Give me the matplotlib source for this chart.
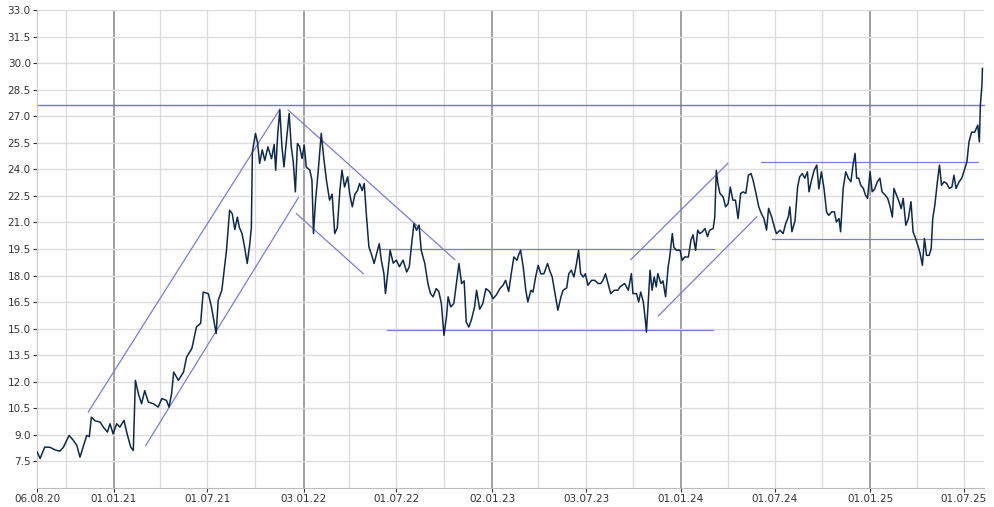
import numpy as np
import pandas as pd
import matplotlib
matplotlib.use("Agg")
from matplotlib import pyplot as plt

# price readings: day offset since 06.08.20 and closing price
start_date = "2020-08-06"
day_offset = [
    0, 6, 15, 25, 35, 44, 51, 62, 70, 77, 83, 89, 96, 101, 105, 112, 122, 128, 136, 141,
    147, 154, 160, 168, 174, 181, 186, 190, 196, 202, 208, 215, 225, 234, 241, 250, 255, 260, 264, 273,
    283, 289, 299, 308, 316, 321, 331, 337, 346, 350, 357, 366, 372, 377, 382, 387, 391, 396, 401, 406,
    411, 414, 416, 422, 426, 430, 435, 440, 446, 453, 458, 461, 465, 469, 473, 477, 482, 487, 491, 495,
    499, 503, 507, 512, 516, 520, 527, 531, 534, 538, 543, 549, 554, 559, 565, 570, 575, 580, 585, 589,
    594, 600, 604, 609, 614, 619, 623, 628, 632, 636, 641, 646, 651, 656, 661, 665, 670, 673, 678, 682,
    688, 694, 700, 707, 714, 719, 723, 728, 733, 738, 742, 749, 755, 760, 765, 771, 776, 781, 786, 791,
    794, 799, 805, 810, 815, 820, 825, 829, 834, 839, 845, 849, 855, 861, 867, 874, 881, 887, 894, 900,
    905, 911, 916, 921, 927, 930, 934, 939, 944, 948, 954, 958, 963, 968, 973, 979, 986, 990, 995, 1000,
    1006, 1012, 1016, 1023, 1027, 1032, 1037, 1042, 1046, 1050, 1055, 1059, 1064, 1071, 1077, 1084, 1089, 1093, 1098, 1103,
    1108, 1115, 1122, 1126, 1135, 1142, 1148, 1151, 1158, 1162, 1166, 1171, 1175, 1177, 1180, 1184, 1188, 1192, 1196, 1199,
    1205, 1209, 1214, 1219, 1222, 1227, 1230, 1235, 1242, 1246, 1251, 1258, 1263, 1267, 1272, 1276, 1280, 1285, 1290, 1295,
    1299, 1306, 1309, 1312, 1315, 1319, 1325, 1330, 1335, 1339, 1344, 1349, 1354, 1359, 1364, 1369, 1374, 1379, 1383, 1390,
    1394, 1399, 1404, 1409, 1413, 1419, 1424, 1428, 1435, 1441, 1446, 1451, 1454, 1458, 1464, 1469, 1473, 1478, 1483, 1488,
    1491, 1496, 1501, 1506, 1510, 1515, 1520, 1525, 1529, 1535, 1540, 1544, 1549, 1552, 1557, 1562, 1567, 1572, 1576, 1580,
    1583, 1587, 1591, 1596, 1600, 1604, 1609, 1613, 1618, 1623, 1628, 1632, 1638, 1643, 1647, 1652, 1655, 1660, 1665, 1669,
    1673, 1678, 1683, 1688, 1692, 1697, 1701, 1705, 1710, 1714, 1718, 1723, 1727, 1730, 1734, 1739, 1743, 1747, 1752, 1757,
    1762, 1767, 1771, 1775, 1781, 1786, 1791, 1796, 1800, 1805, 1811, 1817, 1820, 1822, 1825, 1826,
]
close = [
    8.05, 7.67, 8.31, 8.30, 8.15, 8.08, 8.30, 8.97, 8.70, 8.40, 7.74, 8.30, 8.97, 8.90, 10.00, 9.80, 9.72, 9.44, 9.16, 9.63,
    9.06, 9.63, 9.44, 9.82, 9.06, 8.31, 8.12, 12.08, 11.30, 10.76, 11.50, 10.85, 10.76, 10.57, 11.05, 10.95, 10.57, 11.33, 12.55, 12.08,
    12.55, 13.40, 13.87, 15.10, 15.30, 17.07, 16.97, 16.22, 14.72, 16.60, 17.17, 19.43, 21.69, 21.50, 20.60, 21.30, 20.70, 20.37, 19.60, 18.68,
    19.80, 20.70, 24.99, 26.03, 25.50, 24.33, 25.10, 24.50, 25.27, 24.60, 25.40, 23.95, 26.03, 27.35, 25.30, 24.14, 25.70, 27.16, 25.30, 24.40,
    22.73, 25.46, 25.30, 24.61, 25.37, 24.14, 23.95, 23.39, 20.37, 22.25, 23.86, 26.03, 24.60, 23.39, 22.26, 22.60, 20.37, 20.70, 22.82, 23.95,
    23.00, 23.58, 22.60, 21.88, 22.60, 22.80, 23.20, 22.80, 23.20, 21.50, 19.62, 19.20, 18.68, 19.24, 19.80, 18.87, 18.11, 16.98, 18.30, 19.43,
    18.70, 18.87, 18.50, 18.87, 18.20, 18.50, 19.62, 20.94, 20.56, 20.85, 19.43, 18.68, 17.55, 16.98, 16.80, 17.26, 17.10, 16.42, 14.62, 15.70,
    16.80, 16.23, 16.42, 17.55, 18.68, 17.55, 17.70, 15.38, 15.09, 15.50, 16.22, 17.17, 16.10, 16.42, 17.26, 17.10, 16.70, 16.90, 17.26, 17.45,
    17.73, 17.10, 18.11, 19.05, 18.86, 19.15, 19.43, 18.50, 17.17, 16.51, 17.17, 17.07, 17.92, 18.58, 18.10, 18.10, 18.68, 18.30, 17.92, 17.07,
    16.04, 16.80, 17.17, 17.30, 18.10, 18.30, 17.92, 18.68, 19.43, 18.10, 17.92, 18.10, 17.45, 17.73, 17.73, 17.55, 17.55, 17.73, 18.10, 17.55,
    16.98, 17.17, 17.17, 17.36, 17.55, 17.17, 18.11, 16.98, 16.98, 16.51, 17.07, 16.51, 15.47, 14.81, 16.23, 18.30, 17.17, 17.92, 17.36, 18.11,
    17.55, 17.70, 16.80, 18.50, 19.05, 20.37, 19.60, 19.43, 19.43, 18.86, 19.05, 19.05, 20.00, 20.30, 19.43, 20.56, 20.37, 20.47, 20.66, 20.20,
    20.56, 20.66, 21.30, 23.95, 23.20, 22.64, 22.45, 21.88, 22.07, 23.00, 22.26, 22.26, 21.22, 22.64, 22.73, 22.64, 23.67, 23.76, 23.39, 22.45,
    21.88, 21.50, 21.22, 20.56, 21.80, 21.30, 20.75, 20.37, 20.56, 20.37, 20.94, 21.30, 21.88, 20.47, 21.10, 23.00, 23.58, 23.76, 23.50, 23.86,
    22.73, 23.40, 23.95, 24.24, 22.90, 23.86, 22.92, 21.60, 21.40, 21.60, 21.60, 21.03, 21.22, 20.47, 22.92, 23.86, 23.50, 23.30, 24.24, 24.90,
    23.50, 23.50, 23.10, 22.92, 22.55, 22.36, 23.86, 22.73, 22.90, 23.30, 23.50, 22.73, 22.55, 22.36, 21.97, 21.30, 22.92, 22.55, 22.17, 21.78,
    22.36, 20.84, 21.22, 22.17, 20.47, 20.09, 19.71, 19.33, 18.58, 20.09, 19.14, 19.14, 19.52, 21.22, 21.97, 23.30, 24.24, 23.10, 23.30, 23.20,
    22.92, 23.00, 23.67, 22.92, 23.30, 23.50, 23.95, 24.43, 25.55, 26.10, 26.10, 26.50, 25.55, 27.63, 28.76, 29.70,
]

# trend lines: (start day, start value, end day, end value)
trend_lines = [
    (99, 10.29, 469, 27.40),
    (210, 8.40, 505, 22.41),
    (485, 27.35, 807, 18.90),
    (501, 21.50, 630, 18.11),
    (676, 14.95, 1306, 14.95),
    (662, 19.48, 1308, 19.48),
    (1147, 18.90, 1334, 24.33),
    (1200, 15.72, 1390, 21.31),
    (1399, 24.39, 1817, 24.39),
    (1419, 20.05, 1827, 20.05),
]
resistance_level = 27.62

tick_dates = ["2020-08-06", "2021-01-01", "2021-07-01", "2022-01-03", "2022-07-01", "2023-01-02",
              "2023-07-03", "2024-01-01", "2024-07-01", "2025-01-01", "2025-07-01"]
tick_labels = ["06.08.20", "01.01.21", "01.07.21", "03.01.22", "01.07.22", "02.01.23",
               "03.07.23", "01.01.24", "01.07.24", "01.01.25", "01.07.25"]
year_lines = ["2021-01-01", "2022-01-03", "2023-01-02", "2024-01-01", "2025-01-01"]
quarter_lines = ["2020-10-01", "2021-04-01", "2021-07-01", "2021-10-01", "2022-04-01", "2022-07-01",
                 "2022-10-01", "2023-04-01", "2023-07-03", "2023-10-01", "2024-04-01", "2024-07-01",
                 "2024-10-01", "2025-04-01", "2025-07-01"]
y_ticks = [7.5, 9.0, 10.5, 12.0, 13.5, 15.0, 16.5, 18.0, 19.5, 21.0, 22.5, 24.0, 25.5, 27.0,
           28.5, 30.0, 31.5, 33.0]


def main():
    t0 = pd.Timestamp(start_date)
    dates = t0 + pd.to_timedelta(day_offset, unit="D")

    fig = plt.figure(figsize=(9.94, 5.07), dpi=100)
    ax = fig.add_axes([37 / 994, 19 / 507, 947 / 994, 478 / 507])

    for d in quarter_lines:
        ax.axvline(pd.Timestamp(d), color="#dcdcdc", lw=1, zorder=0)
    for d in year_lines:
        ax.axvline(pd.Timestamp(d), color="#a0a0a0", lw=1.4, zorder=0)
    for v in y_ticks:
        ax.axhline(v, color="#dcdcdc", lw=1, zorder=0)

    ax.axhline(resistance_level, color="#7474d8", lw=1, zorder=2, clip_on=False)
    for d0, v0, d1, v1 in trend_lines:
        ax.plot([t0 + pd.Timedelta(days=d0), t0 + pd.Timedelta(days=d1)], [v0, v1],
                color="#7b7bd8", lw=0.9, zorder=2)

    ax.plot(dates, close, color="#0d2a4c", lw=1.1, zorder=3)

    ax.set_xlim(t0, t0 + pd.Timedelta(days=1829))
    ax.set_ylim(6.0, 33.0)

    ax.set_yticks(y_ticks)
    ax.set_yticklabels([f"{v:.1f}" for v in y_ticks])
    ax.set_xticks([pd.Timestamp(d) for d in tick_dates])
    ax.set_xticklabels(tick_labels)
    ax.tick_params(axis="both", labelsize=7.5, colors="#333333", length=3, width=0.8,
                   direction="out", pad=1.5)
    ax.tick_params(axis="x", colors="#333333", pad=1)

    for s in ["top", "right"]:
        ax.spines[s].set_visible(False)
    ax.spines["left"].set_color("#cccccc")
    ax.spines["bottom"].set_color("#bbbbbb")

    plt.savefig("out.png", dpi=100)


if __name__ == "__main__":
    main()
